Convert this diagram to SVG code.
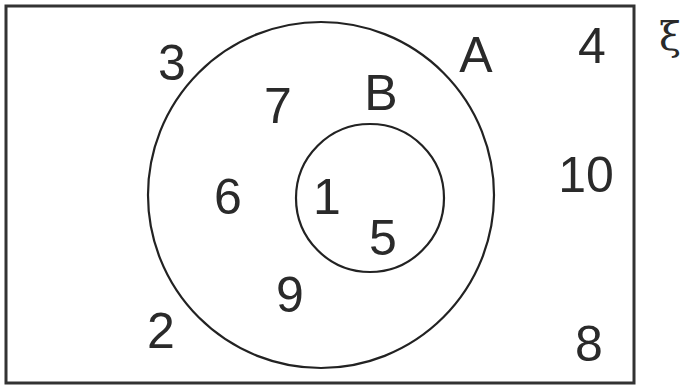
<svg xmlns="http://www.w3.org/2000/svg" width="683" height="388" viewBox="0 0 683 388">
<style>
.frame{fill:none;stroke:#333;stroke-width:3}
.set{fill:none;stroke:#222;stroke-width:2.2}
.lbl{font-family:"Liberation Sans",Arial,sans-serif;font-size:50px;fill:#2a2a2a;text-anchor:middle}
</style>
<rect width="683" height="388" fill="#fff"/>
<g id="universe">
<rect class="frame" x="6" y="6" width="628" height="377"/>
<text class="lbl" x="670" y="50" style="font-family:'DejaVu Serif',serif;font-size:40px">ξ</text>
</g>
<g id="setA">
<circle class="set" cx="321" cy="195" r="173"/>
<text class="lbl" x="476" y="72">A</text>
</g>
<g id="setB">
<circle class="set" cx="370" cy="198" r="74"/>
<text class="lbl" x="381" y="110">B</text>
</g>
<g id="elements">
<text class="lbl" x="172" y="80">3</text>
<text class="lbl" x="592" y="63">4</text>
<text class="lbl" x="278" y="123">7</text>
<text class="lbl" x="586" y="192">10</text>
<text class="lbl" x="228" y="214">6</text>
<text class="lbl" x="327" y="214">1</text>
<text class="lbl" x="383" y="255">5</text>
<text class="lbl" x="290" y="312">9</text>
<text class="lbl" x="161" y="348">2</text>
<text class="lbl" x="589" y="361">8</text>
</g>
<g id="connectors"></g>
</svg>
